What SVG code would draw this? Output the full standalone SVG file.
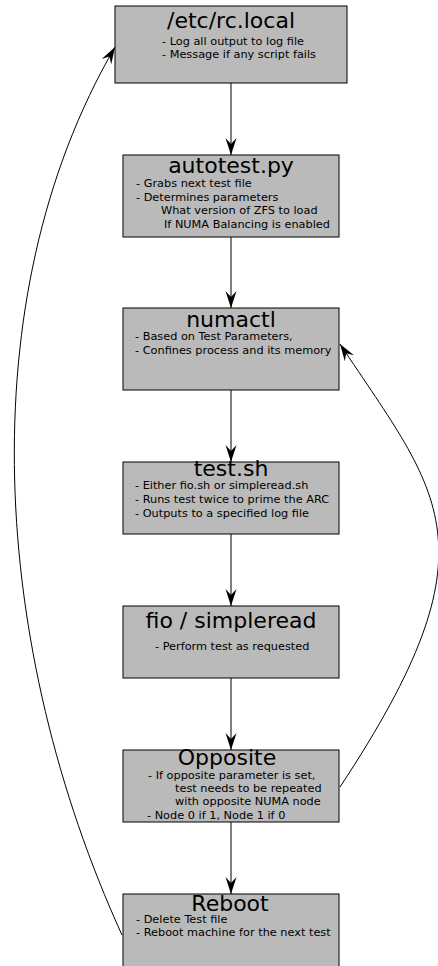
<svg xmlns="http://www.w3.org/2000/svg" width="438" height="966" viewBox="0 0 438 966">
  <style>
    .box { fill: #bababa; stroke: #000; stroke-width: 1; }
    .title { font-family: "DejaVu Sans", Verdana, sans-serif; font-size: 22px; fill: #000; text-anchor: middle; }
    .body { font-family: "DejaVu Sans", Verdana, sans-serif; font-size: 11.3px; fill: #000; }
    .link { fill: none; stroke: #000; stroke-width: 1; marker-end: url(#head); }
  </style>
  <defs>
    <marker id="head" markerUnits="userSpaceOnUse" viewBox="-18 -7 20 14" refX="0" refY="0" markerWidth="20" markerHeight="14" orient="auto">
      <path d="M0,0 L-17,-5.5 L-11,0 L-17,5.5 Z" fill="#000"/>
    </marker>
  </defs>
  <rect width="438" height="966" fill="#fff"/>

  <g id="connectors">
    <path class="link" d="M231,83 L231,155"/>
    <path class="link" d="M231,237 L231,308"/>
    <path class="link" d="M231,390 L231,462"/>
    <path class="link" d="M231,534 L231,606"/>
    <path class="link" d="M231,678 L231,750"/>
    <path class="link" d="M231,822 L231,894"/>
    <!-- loop back from Opposite to numactl -->
    <path class="link" d="M340,787 C500,545 440,495 340,344"/>
    <!-- loop back from Reboot to rc.local -->
    <path class="link" d="M122,935 C-8,650 -32,300 115,47"/>
  </g>

  <g id="rc-local">
    <rect class="box" x="115" y="6" width="232" height="77"/>
    <text class="title" x="231" y="28">/etc/rc.local</text>
    <text class="body" x="162" y="45">- Log all output to log file</text>
    <text class="body" x="162" y="58">- Message if any script fails</text>
  </g>

  <g id="autotest">
    <rect class="box" x="123" y="155" width="216" height="82"/>
    <text class="title" x="231" y="173">autotest.py</text>
    <text class="body" x="136" y="187">- Grabs next test file</text>
    <text class="body" x="136" y="201">- Determines parameters</text>
    <text class="body" x="161" y="214">What version of ZFS to load</text>
    <text class="body" x="164" y="228">If NUMA Balancing is enabled</text>
  </g>

  <g id="numactl">
    <rect class="box" x="123" y="308" width="216" height="82"/>
    <text class="title" x="231" y="327">numactl</text>
    <text class="body" x="135" y="340">- Based on Test Parameters,</text>
    <text class="body" x="135" y="354">- Confines process and its memory</text>
  </g>

  <g id="test-sh">
    <rect class="box" x="123" y="462" width="216" height="72"/>
    <text class="title" x="231" y="476">test.sh</text>
    <text class="body" x="135" y="489">- Either fio.sh or simpleread.sh</text>
    <text class="body" x="135" y="503">- Runs test twice to prime the ARC</text>
    <text class="body" x="135" y="517">- Outputs to a specified log file</text>
  </g>

  <g id="fio-simpleread">
    <rect class="box" x="123" y="606" width="216" height="72"/>
    <text class="title" x="231" y="628">fio / simpleread</text>
    <text class="body" x="155" y="650">- Perform test as requested</text>
  </g>

  <g id="opposite">
    <rect class="box" x="123" y="750" width="216" height="72"/>
    <text class="title" x="227" y="765">Opposite</text>
    <text class="body" x="148" y="779">- If opposite parameter is set,</text>
    <text class="body" x="175" y="792">test needs to be repeated</text>
    <text class="body" x="175" y="805">with opposite NUMA node</text>
    <text class="body" x="147" y="819">- Node 0 if 1, Node 1 if 0</text>
  </g>

  <g id="reboot">
    <rect class="box" x="123" y="894" width="216" height="73"/>
    <text class="title" x="230" y="911">Reboot</text>
    <text class="body" x="136" y="923">- Delete Test file</text>
    <text class="body" x="136" y="936">- Reboot machine for the next test</text>
  </g>
</svg>
